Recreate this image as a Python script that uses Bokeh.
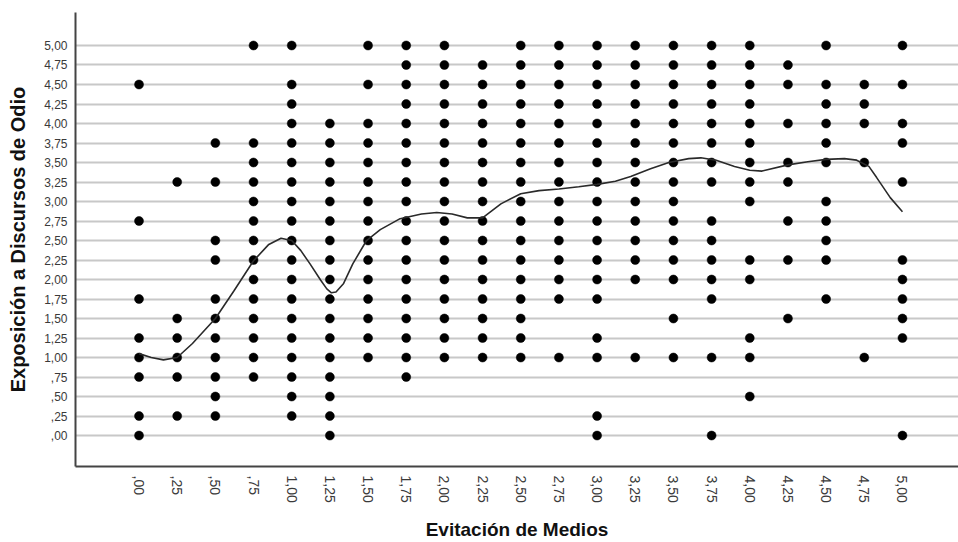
import math
from bokeh.plotting import figure
from bokeh.models import FixedTicker, Range1d, ColumnDataSource
from bokeh.embed import file_html
from bokeh.resources import INLINE

# ---- axis categories / tick labels ----
x_ticks = [0.0, 0.25, 0.5, 0.75, 1.0, 1.25, 1.5, 1.75, 2.0, 2.25, 2.5,
           2.75, 3.0, 3.25, 3.5, 3.75, 4.0, 4.25, 4.5, 4.75, 5.0]
x_tick_labels = [",00", ",25", ",50", ",75", "1,00", "1,25", "1,50", "1,75",
                 "2,00", "2,25", "2,50", "2,75", "3,00", "3,25", "3,50",
                 "3,75", "4,00", "4,25", "4,50", "4,75", "5,00"]
y_ticks = [0.0, 0.25, 0.5, 0.75, 1.0, 1.25, 1.5, 1.75, 2.0, 2.25, 2.5,
           2.75, 3.0, 3.25, 3.5, 3.75, 4.0, 4.25, 4.5, 4.75, 5.0]
y_tick_labels = [",00", ",25", ",50", ",75", "1,00", "1,25", "1,50", "1,75",
                 "2,00", "2,25", "2,50", "2,75", "3,00", "3,25", "3,50",
                 "3,75", "4,00", "4,25", "4,50", "4,75", "5,00"]

# ---- observed Exposición values for each Evitación value ----
ys_000 = [4.5, 2.75, 1.75, 1.25, 1.0, 0.75, 0.25, 0.0]
ys_025 = [3.25, 1.5, 1.25, 1.0, 0.75, 0.25]
ys_050 = [3.75, 3.25, 2.5, 2.25, 1.75, 1.5, 1.25, 1.0, 0.75, 0.5, 0.25]
ys_075 = [5.0, 3.75, 3.5, 3.25, 3.0, 2.75, 2.5, 2.25, 2.0, 1.75, 1.5, 1.25, 1.0, 0.75]
ys_100 = [5.0, 4.5, 4.25, 4.0, 3.75, 3.5, 3.25, 3.0, 2.75, 2.5, 2.25, 2.0, 1.75,
          1.5, 1.25, 1.0, 0.75, 0.5, 0.25]
ys_125 = [4.0, 3.75, 3.5, 3.25, 3.0, 2.75, 2.5, 2.25, 2.0, 1.75, 1.5, 1.25, 1.0,
          0.75, 0.5, 0.25, 0.0]
ys_150 = [5.0, 4.5, 4.0, 3.75, 3.5, 3.25, 3.0, 2.75, 2.5, 2.25, 2.0, 1.75, 1.5,
          1.25, 1.0]
ys_175 = [5.0, 4.75, 4.5, 4.25, 4.0, 3.75, 3.5, 3.25, 3.0, 2.75, 2.5, 2.25, 2.0,
          1.75, 1.5, 1.25, 1.0, 0.75]
ys_200 = [5.0, 4.75, 4.5, 4.25, 4.0, 3.75, 3.5, 3.25, 3.0, 2.75, 2.5, 2.25, 2.0,
          1.75, 1.5, 1.25, 1.0]
ys_225 = [4.75, 4.5, 4.25, 4.0, 3.75, 3.5, 3.25, 3.0, 2.75, 2.5, 2.25, 2.0,
          1.75, 1.5, 1.25, 1.0]
ys_250 = [5.0, 4.75, 4.5, 4.25, 4.0, 3.75, 3.5, 3.25, 3.0, 2.75, 2.5, 2.25, 2.0,
          1.75, 1.5, 1.25, 1.0]
ys_275 = [5.0, 4.75, 4.5, 4.25, 4.0, 3.75, 3.5, 3.25, 3.0, 2.75, 2.5, 2.25, 2.0,
          1.75, 1.0]
ys_300 = [5.0, 4.75, 4.5, 4.25, 4.0, 3.75, 3.5, 3.25, 3.0, 2.75, 2.5, 2.25, 2.0,
          1.75, 1.25, 1.0, 0.25, 0.0]
ys_325 = [5.0, 4.75, 4.5, 4.25, 4.0, 3.75, 3.5, 3.25, 3.0, 2.75, 2.5, 2.25, 2.0, 1.0]
ys_350 = [5.0, 4.75, 4.5, 4.25, 4.0, 3.75, 3.5, 3.25, 3.0, 2.75, 2.5, 2.25, 2.0,
          1.5, 1.0]
ys_375 = [5.0, 4.75, 4.5, 4.25, 4.0, 3.75, 3.5, 3.25, 2.75, 2.5, 2.25, 2.0, 1.75,
          1.0, 0.0]
ys_400 = [5.0, 4.75, 4.5, 4.25, 4.0, 3.75, 3.5, 3.25, 3.0, 2.25, 2.0, 1.25, 1.0, 0.5]
ys_425 = [4.75, 4.5, 4.0, 3.5, 3.25, 2.75, 2.25, 1.5]
ys_450 = [5.0, 4.5, 4.25, 4.0, 3.75, 3.5, 3.0, 2.75, 2.5, 2.25, 1.75]
ys_475 = [4.5, 4.25, 4.0, 3.5, 1.0]
ys_500 = [5.0, 4.5, 4.0, 3.75, 3.25, 2.25, 2.0, 1.75, 1.5, 1.25, 0.0]

columns = [ys_000, ys_025, ys_050, ys_075, ys_100, ys_125, ys_150, ys_175,
           ys_200, ys_225, ys_250, ys_275, ys_300, ys_325, ys_350, ys_375,
           ys_400, ys_425, ys_450, ys_475, ys_500]

# ---- fitted (loess) curve ----
fit_x = [0.00, 0.08, 0.16, 0.25, 0.35, 0.50, 0.62, 0.75, 0.85, 0.93, 1.00,
         1.06, 1.12, 1.19, 1.23, 1.26, 1.29, 1.34, 1.40, 1.49, 1.58, 1.71,
         1.85, 1.95, 2.05, 2.15, 2.25, 2.37, 2.50, 2.62, 2.75, 2.88, 3.00,
         3.12, 3.22, 3.35, 3.47, 3.60, 3.68, 3.78, 3.90, 4.00, 4.08, 4.25,
         4.38, 4.50, 4.62, 4.70, 4.78, 4.83, 4.92, 5.00]
fit_y = [1.05, 1.00, 0.97, 1.00, 1.18, 1.50, 1.85, 2.24, 2.45, 2.53, 2.50,
         2.37, 2.20, 1.99, 1.88, 1.83, 1.84, 1.95, 2.20, 2.50, 2.64, 2.78,
         2.84, 2.86, 2.84, 2.79, 2.79, 2.97, 3.10, 3.14, 3.16, 3.19, 3.22,
         3.26, 3.32, 3.42, 3.50, 3.55, 3.56, 3.53, 3.45, 3.40, 3.39, 3.47,
         3.51, 3.54, 3.55, 3.53, 3.45, 3.31, 3.05, 2.87]

xs, ys = [], []
for xv, col in zip(x_ticks, columns):
    for yv in col:
        xs.append(xv)
        ys.append(yv)

FONT = "Liberation Sans"

p = figure(width=958, height=542, output_backend="svg", toolbar_location=None,
           x_range=Range1d(-0.416, 5.367), y_range=Range1d(-0.397, 5.423))
p.min_border_left = 75
p.min_border_right = 0
p.min_border_top = 12
p.min_border_bottom = 76
p.outline_line_color = None
p.background_fill_color = "white"
p.border_fill_color = "white"

p.xgrid.grid_line_color = None
p.ygrid.ticker = FixedTicker(ticks=y_ticks)
p.ygrid.grid_line_color = "#c8c8c8"
p.ygrid.grid_line_width = 2

p.xaxis.ticker = FixedTicker(ticks=x_ticks)
p.yaxis.ticker = FixedTicker(ticks=y_ticks)
p.xaxis.major_label_overrides = {t: l for t, l in zip(x_ticks, x_tick_labels)}
p.yaxis.major_label_overrides = {t: l for t, l in zip(y_ticks, y_tick_labels)}

for ax in (p.xaxis[0], p.yaxis[0]):
    ax.major_tick_line_color = None
    ax.minor_tick_line_color = None
    ax.major_tick_out = 0
    ax.major_tick_in = 0
    ax.minor_tick_out = 0
    ax.minor_tick_in = 0
    ax.axis_line_color = "#444444"
    ax.axis_line_width = 2
    ax.major_label_text_font = FONT
    ax.major_label_text_color = "#3a3a3a"
    ax.axis_label_text_font = FONT
    ax.axis_label_text_font_style = "bold"
    ax.axis_label_text_color = "#111111"

p.xaxis.major_label_text_font_size = "14px"
p.xaxis.major_label_orientation = -math.pi / 2
p.xaxis.major_label_standoff = 9
p.xaxis.axis_label = "Evitación de Medios"
p.xaxis.axis_label_text_font_size = "19px"
p.xaxis.axis_label_standoff = 13

p.yaxis.major_label_text_font_size = "12px"
p.yaxis.major_label_standoff = 8
p.yaxis.axis_label = "Exposición a Discursos de Odio"
p.yaxis.axis_label_text_font_size = "20px"
p.yaxis.axis_label_standoff = 12

src = ColumnDataSource(data=dict(x=xs, y=ys))
p.scatter("x", "y", source=src, size=9, fill_color="black", line_color="black",
          line_width=0.5)
p.line(fit_x, fit_y, line_color="#2a2a2a", line_width=1.6)

open("out.html", "w").write(file_html(p, INLINE))
